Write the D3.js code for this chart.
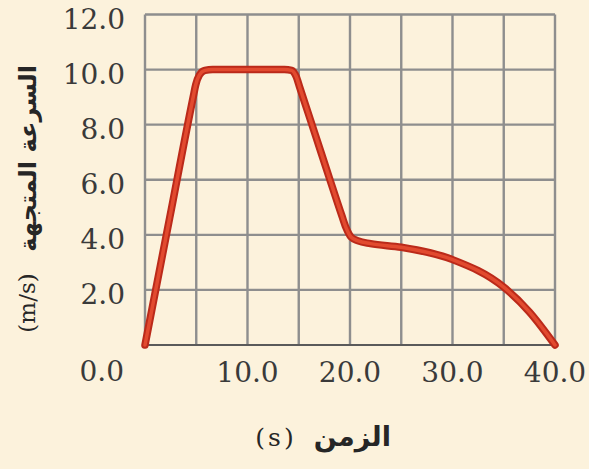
<!DOCTYPE html>
<html><head><meta charset="utf-8">
<script src="https://cdn.jsdelivr.net/npm/d3@7/dist/d3.min.js"></script>
<style>
html,body{margin:0;padding:0;background:#fcf2dc;}
svg{display:block;}
</style></head>
<body>
<svg id="chart" width="589" height="469"></svg>
<script>
// Data
const timeS = [0, 2.4, 4.7, 4.95, 5.3, 5.85, 6.6, 13.6, 14.3, 14.75, 15.1, 16.6, 18.0, 19.2, 19.6, 20.1, 20.8, 22, 25, 30, 35, 37.5, 40];
const velocity = [0, 4.6, 9.0, 9.45, 9.8, 9.97, 10, 10, 9.97, 9.75, 9.35, 7.65, 6.05, 4.7, 4.27, 3.92, 3.78, 3.68, 3.55, 3.1, 2.1, 1.2, 0];
const xGridValues = [0, 5, 10, 15, 20, 25, 30, 35, 40];
const yGridValues = [0, 2, 4, 6, 8, 10, 12];
const xTickValues = [10, 20, 30, 40];
const yTickValues = [2, 4, 6, 8, 10, 12];
const xTickLabels = ["10.0", "20.0", "30.0", "40.0"];
const yTickLabels = ["2.0", "4.0", "6.0", "8.0", "10.0", "12.0"];
const originLabel = "0.0";
const xTitleWord = "الزمن";
const xTitleUnit = "(s)";
const yTitleWord = "السرعة المتجهة";
const yTitleUnit = "(m/s)";

const svg = d3.select("#chart");
const L = 145, R = 555, T = 14.5, B = 345;
const x = d3.scaleLinear().domain([0, 40]).range([L, R]);
const y = d3.scaleLinear().domain([0, 12]).range([B, T]);

svg.append("rect").attr("width", 589).attr("height", 469).attr("fill", "#fcf2dc");

const grid = svg.append("g");
grid.selectAll("line.v").data(xGridValues).join("line")
  .attr("x1", d => x(d)).attr("x2", d => x(d))
  .attr("y1", T).attr("y2", B)
  .attr("stroke", "#8e8e8e").attr("stroke-width", 2.4);
grid.selectAll("line.h").data(yGridValues).join("line")
  .attr("x1", L).attr("x2", R)
  .attr("y1", d => y(d)).attr("y2", d => y(d))
  .attr("stroke", d => d === 0 ? "#5a5a5a" : "#8e8e8e")
  .attr("stroke-width", d => d === 0 ? 2.2 : 2.4);

const tickFont = "'DejaVu Serif', serif";
const tickSize = 28;
const tickColor = "#3a3a3a";

// Y tick labels
svg.append("g").selectAll("text").data(yTickValues).join("text")
  .attr("x", 125).attr("y", d => y(d) + 4)
  .attr("dy", "0.36em")
  .attr("text-anchor", "end")
  .attr("font-family", tickFont)
  .attr("font-size", tickSize)
  .attr("fill", tickColor)
  .text((d, i) => yTickLabels[i]);

// X tick labels
svg.append("g").selectAll("text").data(xTickValues).join("text")
  .attr("x", d => x(d)).attr("y", 372)
  .attr("dy", "0.36em")
  .attr("text-anchor", "middle")
  .attr("font-family", tickFont)
  .attr("font-size", tickSize)
  .attr("fill", tickColor)
  .text((d, i) => xTickLabels[i]);

svg.append("text")
  .attr("x", 124).attr("y", 371).attr("dy", "0.36em")
  .attr("text-anchor", "end")
  .attr("font-family", tickFont)
  .attr("font-size", tickSize).attr("fill", tickColor)
  .text(originLabel);

// Curve
const line = d3.line().x((d, i) => x(timeS[i])).y((d, i) => y(velocity[i]))
  .curve(d3.curveMonotoneX);
svg.append("path").datum(velocity).attr("d", line)
  .attr("fill", "none").attr("stroke", "#bb2a1a").attr("stroke-width", 7.5)
  .attr("stroke-linejoin", "round").attr("stroke-linecap", "round");
svg.append("path").datum(velocity).attr("d", line)
  .attr("fill", "none").attr("stroke", "#e24a2f").attr("stroke-width", 3.5)
  .attr("stroke-linejoin", "round").attr("stroke-linecap", "round");

// X title: "الزمن (s)"
svg.append("text")
  .attr("x", 391).attr("y", 436).attr("dy", "0.36em")
  .attr("text-anchor", "start")
  .attr("direction", "rtl")
  .attr("font-family", "'DejaVu Sans', sans-serif")
  .attr("font-weight", "bold")
  .attr("font-size", 27).attr("fill", "#262626")
  .text(xTitleWord);
svg.append("text")
  .attr("x", 276).attr("y", 437).attr("dy", "0.36em")
  .attr("text-anchor", "middle")
  .attr("font-family", tickFont)
  .attr("letter-spacing", 3)
  .attr("font-size", 25).attr("fill", "#262626")
  .text(xTitleUnit);

// Y title: "السرعة المتجهة (m/s)" rotated, reading bottom to top
const yTitle = svg.append("g").attr("transform", "translate(27,0) rotate(-90)");
yTitle.append("text")
  .attr("x", -65).attr("y", 0).attr("dy", "0.36em")
  .attr("text-anchor", "start")
  .attr("direction", "rtl")
  .attr("font-family", "'DejaVu Sans', sans-serif")
  .attr("font-weight", "bold")
  .attr("font-size", 24).attr("fill", "#262626")
  .text(yTitleWord);
yTitle.append("text")
  .attr("x", -303).attr("y", 0).attr("dy", "0.36em")
  .attr("text-anchor", "middle")
  .attr("font-family", tickFont)
  .attr("font-size", 23).attr("fill", "#262626")
  .text(yTitleUnit);
</script>
</body></html>
